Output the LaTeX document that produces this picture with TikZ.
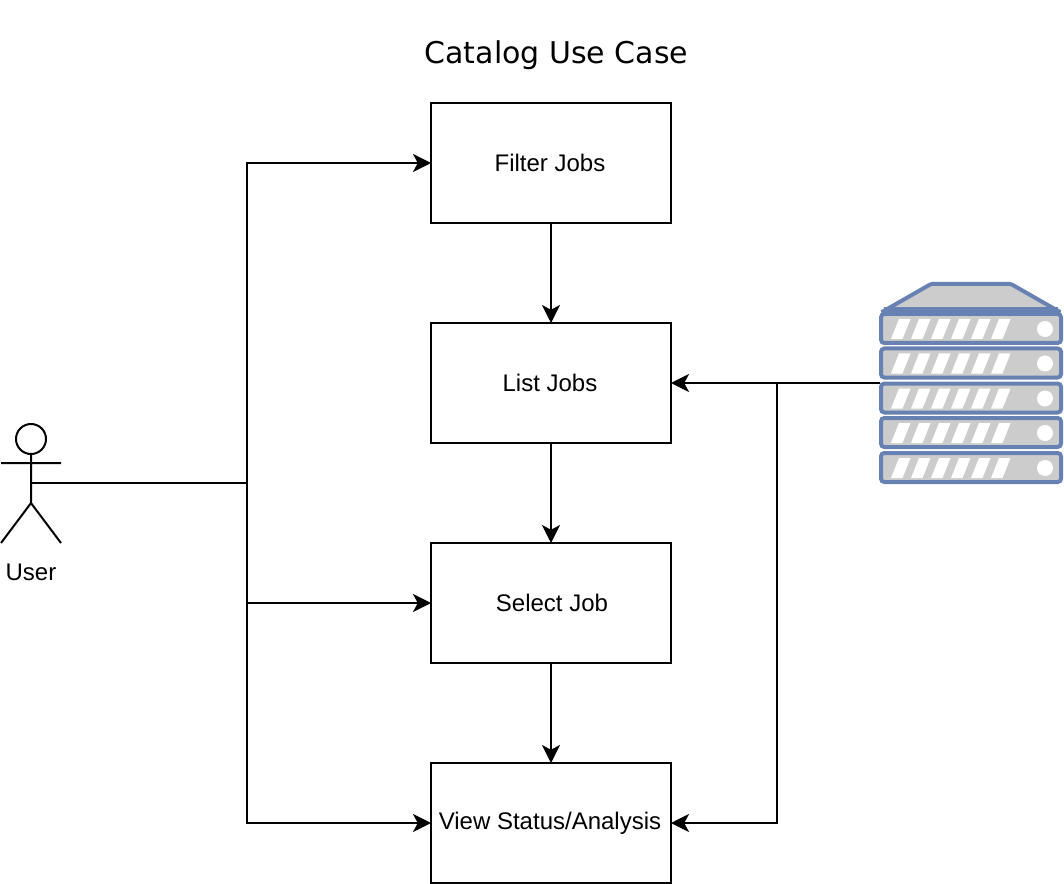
\documentclass[tikz,border=0pt]{standalone}
\usepackage{fontspec}
\setmainfont{Liberation Sans}
\newfontfamily\titlefont{DejaVu Sans}
\usetikzlibrary{arrows.meta}
\definecolor{srvblue}{HTML}{6881B3}
\definecolor{srvgrey}{HTML}{CCCCCC}
\tikzset{
  x=0.75pt,y=-0.75pt,
  boxnode/.style={draw=black,line width=1.5pt,outer sep=0pt,minimum width=180pt,minimum height=90pt,inner sep=0pt,anchor=center,font=\fontsize{18pt}{21pt}\selectfont},
  actorlabel/.style={inner sep=0pt,font=\fontsize{18pt}{21pt}\selectfont},
  link/.style={draw=black,line width=1.5pt,-{Stealth[length=13.5pt,width=13.5pt,inset=3.6pt]}},
  actorline/.style={draw=black,line width=1.5pt},
  rack/.style={draw=srvblue,fill=srvgrey,line width=3pt,rounded corners=2.5pt},
  slot/.style={fill=white,draw=none},
}
\newcommand{\rackrow}[1]{%
  \draw[rack] (881,#1) rectangle (1061,#1+29);
  \foreach \k in {0,...,5}{
    \fill[slot] (891+20*\k,#1+25) -- (899+20*\k,#1+5) -- (910.5+20*\k,#1+5) -- (902.5+20*\k,#1+25) -- cycle;
  }
  \fill[white] (1045,#1+15) circle (6pt);
}
\newcommand{\boxlabel}[2]{\hspace*{#1}\raisebox{-0.6pt}{#2}}
\begin{document}
\begin{tikzpicture}
\useasboundingbox (0,0) rectangle (1064,884);
\node[font=\titlefont\fontsize{22.5pt}{27pt}\selectfont] (title) at (556.5,55) {Catalog Use Case};
\node[boxnode] (filter) at (551,163) {\boxlabel{-1.5pt}{Filter Jobs}};
\node[boxnode] (list) at (551,383) {\boxlabel{-1.5pt}{List Jobs}};
\node[boxnode] (select) at (551,603) {\boxlabel{1.5pt}{Select Job}};
\node[boxnode] (view) at (551,823) {\boxlabel{-1.5pt}{View Status/Analysis}};
% actor
\draw[actorline] (31,439) circle (11.25pt);
\draw[actorline] (31,454) -- (31,503) (1,463) -- (61,463) (1,543) -- (31,503) -- (61,543);
\coordinate (usr) at (31,483);
\node[actorlabel] (userlabel) at (31,572.5) {User};
% server
\draw[rack,rounded corners=1pt,fill=srvgrey] (882,312) -- (931,284) -- (1011,284) -- (1060,312) -- cycle;
\fill[srvblue] (884,307) rectangle (1058,314);
\rackrow{314}
\rackrow{348.5}
\rackrow{383.5}
\rackrow{418}
\rackrow{453}
\node[inner sep=0pt,outer sep=0pt,minimum width=136.5pt,minimum height=150pt] (server) at (971,383) {};
% connectors
\draw[link] (filter) -- (list);
\draw[link] (list) -- (select);
\draw[link] (select) -- (view);
\draw[link] (server.west) -- (list.east);
\draw[link] (server.west) -- (777,383) |- (view.east);
\draw[link] (usr) -- (247,483) |- (filter.west);
\draw[link] (usr) -- (247,483) |- (select.west);
\draw[link] (usr) -- (247,483) |- (view.west);
\end{tikzpicture}
\end{document}
